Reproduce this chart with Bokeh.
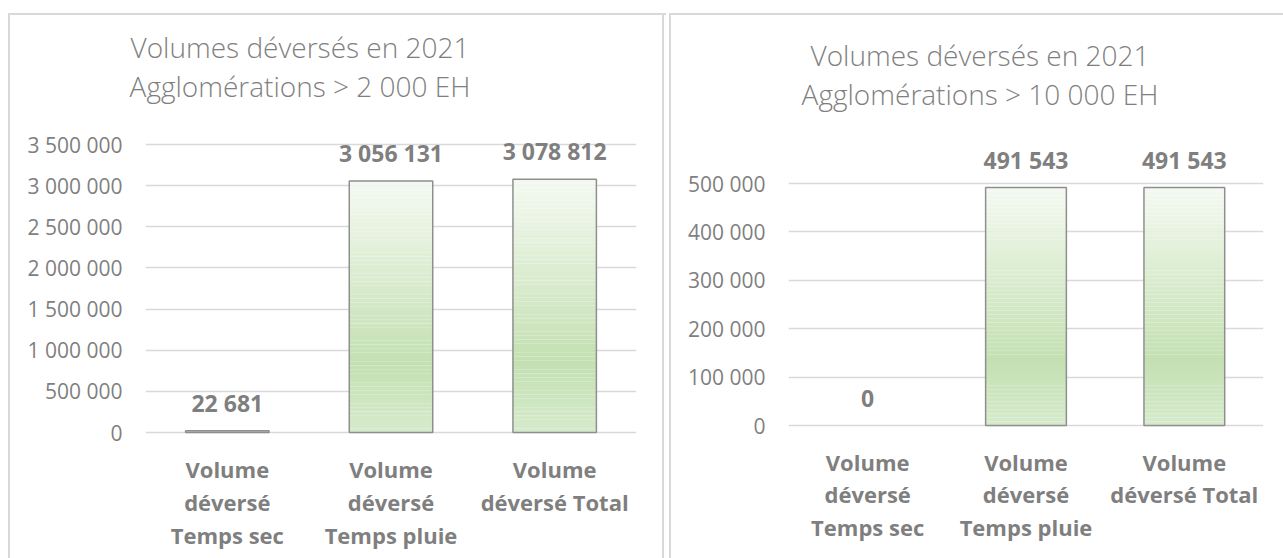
from bokeh.plotting import figure
from bokeh.models import (ColumnDataSource, FactorRange, Range1d, FixedTicker,
                          LabelSet, Div, InlineStyleSheet)
from bokeh.core.properties import value
from bokeh.layouts import row, column
from bokeh.embed import file_html
from bokeh.resources import INLINE

# ---------------- data ----------------
categories = ["Volume\ndéversé\nTemps sec", "Volume\ndéversé\nTemps pluie", "Volume\ndéversé Total"]

values_2000 = [22681, 3056131, 3078812]
values_10000 = [0, 491543, 491543]

title_2000 = ["Volumes déversés en 2021", "Agglomérations > 2 000 EH"]
title_10000 = ["Volumes déversés en 2021", "Agglomérations > 10 000 EH"]

ticks_2000 = [0, 500000, 1000000, 1500000, 2000000, 2500000, 3000000, 3500000]
tick_labels_2000 = ["0", "500 000", "1 000 000", "1 500 000", "2 000 000",
                    "2 500 000", "3 000 000", "3 500 000"]
ticks_10000 = [0, 100000, 200000, 300000, 400000, 500000]
tick_labels_10000 = ["0", "100 000", "200 000", "300 000", "400 000", "500 000"]

# ---------------- style ----------------
FONT = "Open Sans"
TXT = "#7f7f7f"
GRID = "#d9d9d9"
TOP_H = 118          # height of the title block
FIG_H = 440          # height of the plotting block
N_SLICES = 60
STOPS = [(0.0, (244, 249, 241)), (0.72, (196, 224, 178)), (1.0, (214, 234, 204))]
LINE = "linear-gradient(#d9d9d9,#d9d9d9)"


def grad_color(t):
    for (t0, c0), (t1, c1) in zip(STOPS[:-1], STOPS[1:]):
        if t0 <= t <= t1:
            f = (t - t0) / (t1 - t0)
            c = [round(a + (b - a) * f) for a, b in zip(c0, c1)]
            return "#%02x%02x%02x" % tuple(c)
    return "#%02x%02x%02x" % STOPS[-1][1]


def fmt(v):
    return f"{v:,}".replace(",", " ")


def make_panel(values, ticks, tick_labels, title_lines, host_x, width, frame,
               title_center, title_pad, cat_offsets, css_div, css_fig):
    fl, fr, ftick, fzero = frame          # page pixels
    fig_top = TOP_H
    fig_bot = fig_top + FIG_H
    unit = ticks[-1] / (fzero - ftick)    # data per pixel
    y_start = -(fig_bot - fzero) * unit
    y_end = (fzero - fig_top) * unit

    # ---- title block
    inner_w = 2 * (title_center - host_x)
    html = ('<div style="padding-top:%dpx;width:%dpx;text-align:center;'
            "font-family:'Open Sans';font-weight:300;font-size:28px;line-height:39px;"
            'color:%s;white-space:nowrap">%s</div>'
            % (title_pad, inner_w, TXT, "<br>".join(title_lines)))
    div = Div(text=html, width=width, height=TOP_H, margin=0,
              stylesheets=[InlineStyleSheet(css=css_div)])

    # ---- plot block
    p = figure(x_range=FactorRange(*categories, range_padding=0),
               y_range=Range1d(y_start, y_end),
               width=width, height=FIG_H, output_backend="svg", toolbar_location=None,
               min_border_left=fl - host_x, min_border_right=host_x + width - fr,
               min_border_top=0, min_border_bottom=0, margin=0,
               border_fill_color=None, background_fill_color=None,
               outline_line_color=None, title=None,
               stylesheets=[InlineStyleSheet(css=css_fig)])

    # gradient bars: slices of each bar computed from its value
    xs, bots, tops, cols = [], [], [], []
    for c, v in zip(categories, values):
        if v <= 0:
            continue
        for k in range(N_SLICES):
            xs.append(c)
            bots.append(v * k / N_SLICES)
            tops.append(v * (k + 1) / N_SLICES)
            cols.append(grad_color(1 - (k + 0.5) / N_SLICES))
    p.vbar(x=xs, bottom=bots, top=tops, width=0.51, fill_color=cols, line_color=None)

    lines = [c.split("\n") for c in categories]
    data = dict(x=categories, top=values, base=[0] * len(values),
                line=["#8f8f8f" if v > 0 else None for v in values],
                lab=[fmt(v) for v in values])
    for i in range(3):
        data["l%d" % i] = [ls[i] if i < len(ls) else "" for ls in lines]
    src = ColumnDataSource(data)
    p.vbar(x="x", top="top", width=0.51, source=src, fill_color=None,
           line_color="line", line_width=1.5)

    # value labels
    p.add_layout(LabelSet(x="x", y="top", text="lab", source=src, y_offset=19,
                          text_align="center", text_baseline="alphabetic",
                          text_font=value(FONT), text_font_style="bold",
                          text_font_size="23px", text_color=TXT))
    # category labels under the zero line, one LabelSet per text line
    for i, off in enumerate(cat_offsets):
        p.add_layout(LabelSet(x="x", y="base", text="l%d" % i, source=src, y_offset=off,
                              text_align="center", text_baseline="alphabetic",
                              text_font=value(FONT), text_font_style="bold",
                              text_font_size="22px", text_color=TXT))

    # axes
    p.xaxis.visible = False
    p.yaxis.ticker = FixedTicker(ticks=ticks)
    p.yaxis.major_label_overrides = {t: l for t, l in zip(ticks, tick_labels)}
    p.yaxis.axis_line_color = None
    p.yaxis.major_tick_line_color = None
    p.yaxis.major_tick_out = 0
    p.yaxis.major_tick_in = 0
    p.yaxis.minor_tick_line_color = None
    p.yaxis.major_label_standoff = 23
    p.yaxis.major_label_text_font = FONT
    p.yaxis.major_label_text_font_size = "21px"
    p.yaxis.major_label_text_color = TXT

    p.xgrid.grid_line_color = None
    p.ygrid.grid_line_color = GRID
    p.ygrid.grid_line_width = 1.5
    return column(div, p, spacing=0, margin=0)


css_div_left = (":host { background:"
                f" {LINE} 8px 13px / calc(100% - 8px) 2px no-repeat,"
                f" {LINE} 8px 13px / 2px 100% no-repeat,"
                f" {LINE} calc(100% - 2px) 13px / 2px 100% no-repeat; }}")
css_fig_left = (":host { background:"
                f" {LINE} 8px 0px / 2px 100% no-repeat,"
                f" {LINE} calc(100% - 2px) 0px / 2px 100% no-repeat; }}")
css_div_right = (":host { background:"
                 f" {LINE} 3px 13px / 100% 2px no-repeat,"
                 f" {LINE} 3px 13px / 2px 100% no-repeat; }}")
css_fig_right = (":host { background:"
                 f" {LINE} 3px 0px / 2px 100% no-repeat; }}")

# left: frame x 145..636, top tick at y=144, zero at 432
# right: frame x 788..1263, top tick at y=183, zero at 425
left_panel = make_panel(values_2000, ticks_2000, tick_labels_2000, title_2000,
                        0, 666, (145, 636, 144, 432), 300, 28, (-45, -78, -111),
                        css_div_left, css_fig_left)
right_panel = make_panel(values_10000, ticks_10000, tick_labels_10000, title_10000,
                         666, 617, (788, 1263, 183, 425), 980, 36, (-45, -77, -110),
                         css_div_right, css_fig_right)

layout = row(left_panel, right_panel, spacing=0, margin=0)
open("out.html", "w").write(file_html(layout, INLINE))
